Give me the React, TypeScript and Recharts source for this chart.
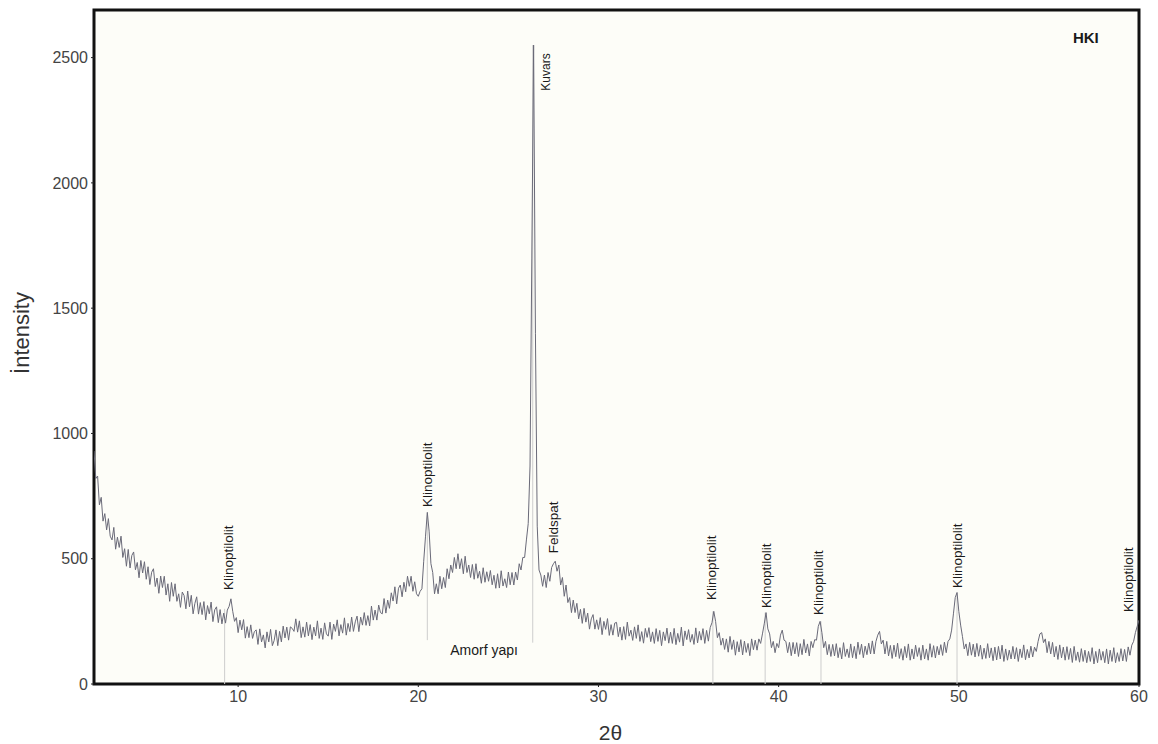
import {
  LineChart,
  Line,
  XAxis,
  YAxis,
  CartesianGrid,
  ReferenceLine,
  ReferenceDot,
  ReferenceArea,
} from 'recharts'

const fontFamily = "'Liberation Sans', Arial, sans-serif"

// 2θ scan: first angle and step between readings
const startAngle = 2
const stepAngle = 0.1

// intensity, one row per degree (x.0 … x.9)
const intensity = [
  930, 820, 830, 715, 745, 650, 680, 615, 660, 590, // 2
  575, 625, 538, 586, 545, 590, 505, 540, 470, 537, // 3
  463, 513, 527, 456, 485, 424, 493, 443, 488, 418, // 4
  468, 397, 446, 460, 389, 423, 362, 431, 385, 430, // 5
  355, 400, 330, 405, 350, 400, 330, 360, 306, 367, // 6
  353, 300, 371, 308, 354, 280, 322, 348, 279, 325, // 7
  277, 329, 256, 313, 280, 327, 249, 296, 308, 245, // 8
  297, 240, 283, 243, 295, 310, 340, 290, 250, 265, // 9
  205, 255, 216, 257, 183, 229, 185, 236, 182, 209, // 10
  216, 158, 220, 168, 196, 144, 208, 168, 218, 153, // 11
  174, 216, 153, 210, 168, 231, 184, 227, 175, 228, // 12
  222, 210, 260, 207, 252, 185, 228, 187, 247, 192, // 13
  237, 177, 227, 192, 252, 182, 223, 178, 244, 200, // 14
  191, 247, 178, 239, 210, 256, 192, 237, 203, 264, // 15
  195, 242, 209, 267, 210, 248, 271, 209, 267, 235, // 16
  285, 234, 273, 232, 311, 255, 295, 255, 315, 285, // 17
  280, 341, 283, 335, 302, 364, 331, 388, 320, 382, // 18
  395, 348, 406, 368, 430, 390, 430, 370, 408, 360, // 19
  350, 370, 380, 490, 590, 685, 610, 480, 445, 360, // 20
  400, 360, 430, 380, 425, 385, 460, 420, 475, 445, // 21
  505, 460, 520, 460, 500, 440, 510, 445, 475, 425, // 22
  477, 418, 480, 422, 450, 402, 464, 406, 448, 410, // 23
  453, 396, 434, 382, 440, 383, 452, 391, 420, 385, // 24
  447, 396, 445, 395, 447, 415, 480, 455, 505, 505, // 25
  575, 640, 870, 1700, 2550, 1400, 630, 455, 435, 390, // 26
  435, 385, 445, 410, 465, 480, 490, 450, 475, 395, // 27
  425, 350, 395, 325, 345, 285, 335, 285, 322, 260, // 28
  298, 242, 302, 247, 283, 219, 260, 277, 219, 256, // 29
  218, 265, 197, 250, 218, 261, 194, 237, 195, 243, // 30
  246, 189, 227, 175, 229, 178, 247, 191, 215, 174, // 31
  228, 182, 236, 170, 209, 163, 222, 186, 225, 169, // 32
  208, 162, 221, 170, 214, 153, 208, 173, 223, 163, // 33
  207, 162, 222, 157, 202, 167, 227, 152, 212, 177, // 34
  217, 167, 198, 158, 224, 164, 210, 175, 221, 162, // 35
  214, 171, 225, 245, 290, 250, 185, 205, 155, 183, // 36
  138, 180, 127, 190, 138, 176, 115, 169, 128, 177, // 37
  116, 171, 126, 162, 113, 180, 137, 175, 135, 180, // 38
  162, 200, 240, 285, 220, 200, 145, 170, 125, 162, // 39
  145, 195, 215, 175, 170, 125, 166, 113, 166, 120, // 40
  165, 110, 161, 117, 178, 124, 160, 112, 170, 145, // 41
  177, 175, 230, 250, 205, 145, 170, 117, 158, 110, // 42
  158, 112, 161, 105, 145, 100, 165, 110, 140, 105, // 43
  160, 105, 150, 101, 167, 118, 159, 105, 151, 117, // 44
  163, 120, 172, 120, 170, 195, 210, 160, 175, 120, // 45
  170, 112, 154, 102, 155, 109, 163, 102, 141, 95, // 46
  150, 105, 160, 95, 140, 100, 155, 110, 145, 95, // 47
  155, 100, 140, 95, 161, 107, 153, 104, 150, 116, // 48
  157, 114, 167, 125, 170, 180, 215, 280, 345, 365, // 49
  290, 235, 190, 140, 160, 113, 166, 115, 159, 108, // 50
  162, 111, 155, 99, 143, 102, 161, 105, 144, 93, // 51
  147, 96, 150, 100, 155, 90, 140, 95, 135, 100, // 52
  150, 100, 145, 90, 140, 105, 156, 97, 138, 104, // 53
  151, 108, 147, 130, 170, 200, 205, 165, 180, 125, // 54
  170, 120, 166, 108, 150, 98, 156, 104, 147, 95, // 55
  149, 98, 142, 86, 150, 94, 128, 87, 141, 90, // 56
  135, 85, 130, 90, 145, 80, 130, 85, 140, 95, // 57
  130, 85, 140, 80, 135, 90, 145, 85, 125, 90, // 58
  141, 92, 138, 90, 148, 115, 155, 170, 205, 230, // 59
  255, // 60
]

const xTicks = [10, 20, 30, 40, 50, 60]
const yTicks = [0, 500, 1000, 1500, 2000, 2500]

// peak labels: name, 2θ and the intensity where the text starts
const peakNames = [
  'Klinoptilolit',
  'Klinoptilolit',
  'Kuvars',
  'Feldspat',
  'Klinoptilolit',
  'Klinoptilolit',
  'Klinoptilolit',
  'Klinoptilolit',
  'Klinoptilolit',
]
const peakAngles = [9.45, 20.5, 27.1, 27.5, 36.3, 39.3, 42.2, 49.95, 59.4]
const peakLabelBase = [375, 706, 2368, 522, 335, 303, 275, 383, 287]

// thin marker lines under the indexed peaks
const dropAngles = [9.25, 20.5, 26.35, 36.35, 39.25, 42.35, 49.9]
const dropFrom = [0, 175, 165, 0, 0, 0, 0]
const dropTo = [300, 680, 2550, 290, 285, 250, 365]

const rotatedText = (text: string, size: number) => (props: any) => (
  <text
    x={props.cx}
    y={props.cy}
    transform={`rotate(-90 ${props.cx} ${props.cy})`}
    fontSize={size}
    fontFamily={fontFamily}
    fill="#1a1a1a"
    dominantBaseline="central"
  >
    {text}
  </text>
)

const plainText = (text: string, size: number, weight: number) => (props: any) => (
  <text
    x={props.cx}
    y={props.cy}
    fontSize={size}
    fontWeight={weight}
    fontFamily={fontFamily}
    fill="#1a1a1a"
    textAnchor="middle"
    dominantBaseline="central"
  >
    {text}
  </text>
)

export default function App() {
  const data = intensity.map((v, i) => ({
    angle: Math.round((startAngle + i * stepAngle) * 10) / 10,
    v,
  }))

  return (
    <div style={{ width: 1150, height: 736, background: '#fff' }}>
      <LineChart width={1150} height={736} data={data} margin={{ top: 2, right: 19, bottom: 0, left: 0 }}>
        <CartesianGrid horizontal={false} vertical={false} fill="#fdfdf8" />
        <XAxis
          dataKey="angle"
          type="number"
          domain={[2, 60]}
          ticks={xTicks}
          allowDataOverflow
          height={60}
          axisLine={false}
          tickSize={3}
          tickMargin={4}
          tickLine={{ stroke: '#222' }}
          tick={{ fontSize: 16, fill: '#444', fontFamily }}
          label={{
            value: '2θ',
            position: 'insideBottom',
            offset: 4,
            dx: -6,
            style: { fontSize: 21, fill: '#333', fontFamily },
          }}
        />
        <YAxis
          type="number"
          domain={[0, 2690]}
          ticks={yTicks}
          allowDataOverflow
          width={86}
          axisLine={false}
          tickSize={3}
          tickMargin={3}
          tickLine={{ stroke: '#222' }}
          tick={{ fontSize: 16, fill: '#444', fontFamily }}
          label={{
            value: 'İntensity',
            angle: -90,
            position: 'insideLeft',
            offset: 13,
            dy: -14,
            style: { textAnchor: 'middle', fontSize: 22, fill: '#333', fontFamily },
          }}
        />
        {dropAngles.map((a, i) => (
          <ReferenceLine
            key={`drop-${i}`}
            segment={[
              { x: a, y: dropFrom[i] },
              { x: a, y: dropTo[i] },
            ]}
            stroke="#cdcdcd"
            strokeWidth={1}
          />
        ))}
        <Line
          type="linear"
          dataKey="v"
          stroke="#6a6a78"
          strokeWidth={1}
          dot={false}
          isAnimationActive={false}
        />
        {peakNames.map((name, i) => (
          <ReferenceDot
            key={`peak-${i}`}
            x={peakAngles[i]}
            y={peakLabelBase[i]}
            r={0}
            shape={rotatedText(name, name === 'Kuvars' ? 12 : 13.5)}
          />
        ))}
        <ReferenceDot x={23.65} y={136} r={0} shape={plainText('Amorf yapı', 14, 400)} />
        <ReferenceDot x={57.05} y={2580} r={0} shape={plainText('HKI', 15, 700)} />
        <ReferenceArea x1={2} x2={60} y1={0} y2={2690} fill="none" stroke="#111" strokeWidth={3} />
      </LineChart>
    </div>
  )
}
